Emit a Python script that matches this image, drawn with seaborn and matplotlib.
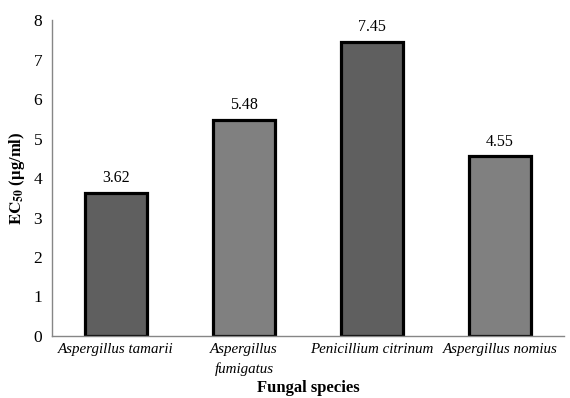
import pandas as pd
import matplotlib.pyplot as plt
import seaborn as sns
from matplotlib.ticker import FixedLocator

species = ['Aspergillus tamarii', 'Aspergillus\nfumigatus', 'Penicillium citrinum', 'Aspergillus nomius']
ec50 = [3.62, 5.48, 7.45, 4.55]
bar_colors = ['#5f5f5f', '#808080', '#5f5f5f', '#808080']

df = pd.DataFrame({'species': species, 'ec50': ec50})

sns.set_style('white')
plt.rcParams['font.family'] = ['Liberation Serif', 'DejaVu Serif']
plt.rcParams['mathtext.fontset'] = 'stix'
plt.rcParams['text.color'] = 'black'
plt.rcParams['axes.labelcolor'] = 'black'

fig = plt.figure(figsize=(5.7, 3.98), dpi=100)
ax = fig.add_axes([0.0912, 0.1558, 0.8983, 0.7939])

sns.barplot(data=df, x='species', y='ec50', hue='species', palette=bar_colors,
            width=0.49, edgecolor='black', linewidth=2.3, legend=False, ax=ax)

for i, v in enumerate(ec50):
    ax.text(i, v + 0.17, f'{v:.2f}', ha='center', va='bottom', fontsize=11.5, color='black')

ax.set_xlim(-0.5, 3.5)
ax.set_ylim(0, 8)
ax.set_yticks(range(0, 9))
ax.xaxis.set_minor_locator(FixedLocator([-0.5, 0.5, 1.5, 2.5, 3.5]))
ax.tick_params(axis='x', which='major', length=0, pad=5, labelcolor='black')
ax.tick_params(axis='x', which='minor', length=4, color='#868686', width=1)
ax.tick_params(axis='y', length=4, color='#868686', width=1, labelsize=12.5, pad=3,
               labelcolor='black')
for lbl in ax.get_xticklabels():
    lbl.set_fontstyle('italic')
    lbl.set_fontsize(10.8)
    lbl.set_linespacing(1.6)

for s in ['top', 'right']:
    ax.spines[s].set_visible(False)
for s in ['left', 'bottom']:
    ax.spines[s].set_color('#868686')
    ax.spines[s].set_linewidth(1)

ax.set_ylabel(r'$\mathbf{EC_{50}}$ (µg/ml)', fontweight='bold', fontsize=12, labelpad=5)
ax.set_xlabel('Fungal species', fontweight='bold', fontsize=12, labelpad=3)

fig.savefig('out.png', dpi=100)
